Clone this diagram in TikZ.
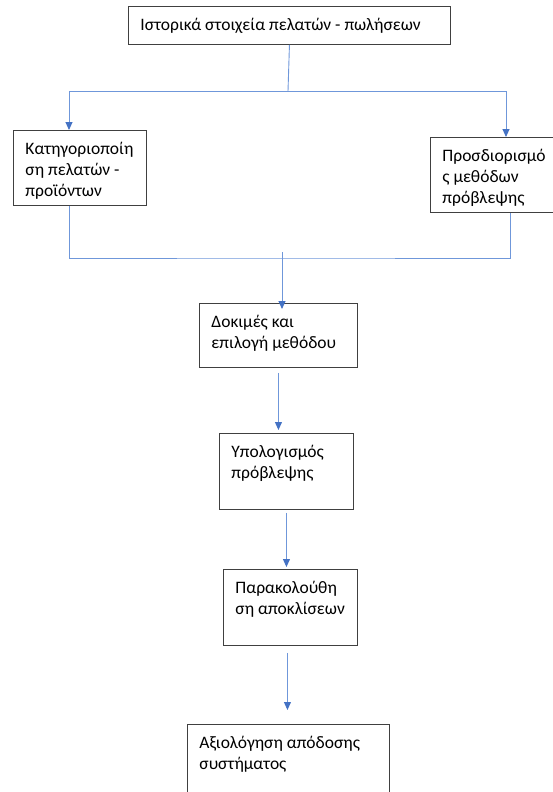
\documentclass[tikz,border=0pt]{standalone}
\usepackage{fontspec}
\setmainfont{Carlito}
\usepackage{tikz}
\usetikzlibrary{arrows.meta,positioning,calc}
\definecolor{frame}{HTML}{404040}
\definecolor{flowline}{HTML}{6F97DA}
\definecolor{flowtip}{HTML}{4472C4}
\newcommand{\steptext}[3]{\parbox[c][#2][t]{#1}{\raggedright\leftskip=12pt\hyphenpenalty=10000\exhyphenpenalty=10000\rule{0pt}{24pt}#3}}
\tikzset{stepbox/.style={draw=frame,line width=.9pt,rectangle,inner sep=0pt,anchor=north west,font=\fontsize{17.5}{21}\selectfont}, flow/.style={draw=flowline,line width=.9pt}, flowarrow/.style={flow,-{Triangle[width=7pt,length=8pt,color=flowtip]}}}

\begin{document}
\begin{tikzpicture}[x=1pt,y=-1pt,>=Latex]
\useasboundingbox (0,0) rectangle (553,792);
\node[stepbox] (hist) at (128,6) {\steptext{322pt}{38pt}{Ιστορικά στοιχεία πελατών - πωλήσεων}};
\node[stepbox] (cat) at (13,130) {\steptext{133pt}{75pt}{Κατηγοριοποίη\\ση πελατών -\\προϊόντων}};
\node[stepbox] (meth) at (430,137) {\steptext{130pt}{75pt}{Προσδιορισμό\\ς μεθόδων\\πρόβλεψης}};
\node[stepbox] (test) at (199,303) {\steptext{158pt}{64pt}{Δοκιμές και\\επιλογή μεθόδου}};
\node[stepbox] (fcast) at (219,433) {\steptext{134pt}{76pt}{Υπολογισμός\\πρόβλεψης}};
\node[stepbox] (mon) at (223,569) {\steptext{134pt}{76pt}{Παρακολούθη\\ση αποκλίσεων}};
\node[stepbox] (eval) at (187,724) {\steptext{202pt}{80pt}{Αξιολόγηση απόδοσης\\συστήματος}};
\coordinate (split) at (288,91);
\coordinate (join) at (282,258);
\coordinate (merge) at (282,252);
\draw[flow] (hist.south) -- (split);
\draw[flowarrow] (split) -| ([xshift=56pt]cat.north west);
\draw[flowarrow] (split) -| ([xshift=76pt]meth.north west);
\draw[flow] ([xshift=56pt]cat.south west) |- (join) -| ([xshift=80pt]meth.south west);
\draw[flowarrow,shorten >=-6pt] (merge) -- (merge |- test.north);
\draw[flowarrow,shorten <=5pt,shorten >=3pt] (test.south) -- (test.south |- fcast.north);
\draw[flowarrow,shorten <=3pt,shorten >=2pt] (fcast.south) -- (fcast.south |- mon.north);
\draw[flowarrow,shorten <=7pt,shorten >=14pt] ([xshift=-3pt]mon.south) -- ([xshift=-3pt]mon.south |- eval.north);
\end{tikzpicture}
\end{document}
